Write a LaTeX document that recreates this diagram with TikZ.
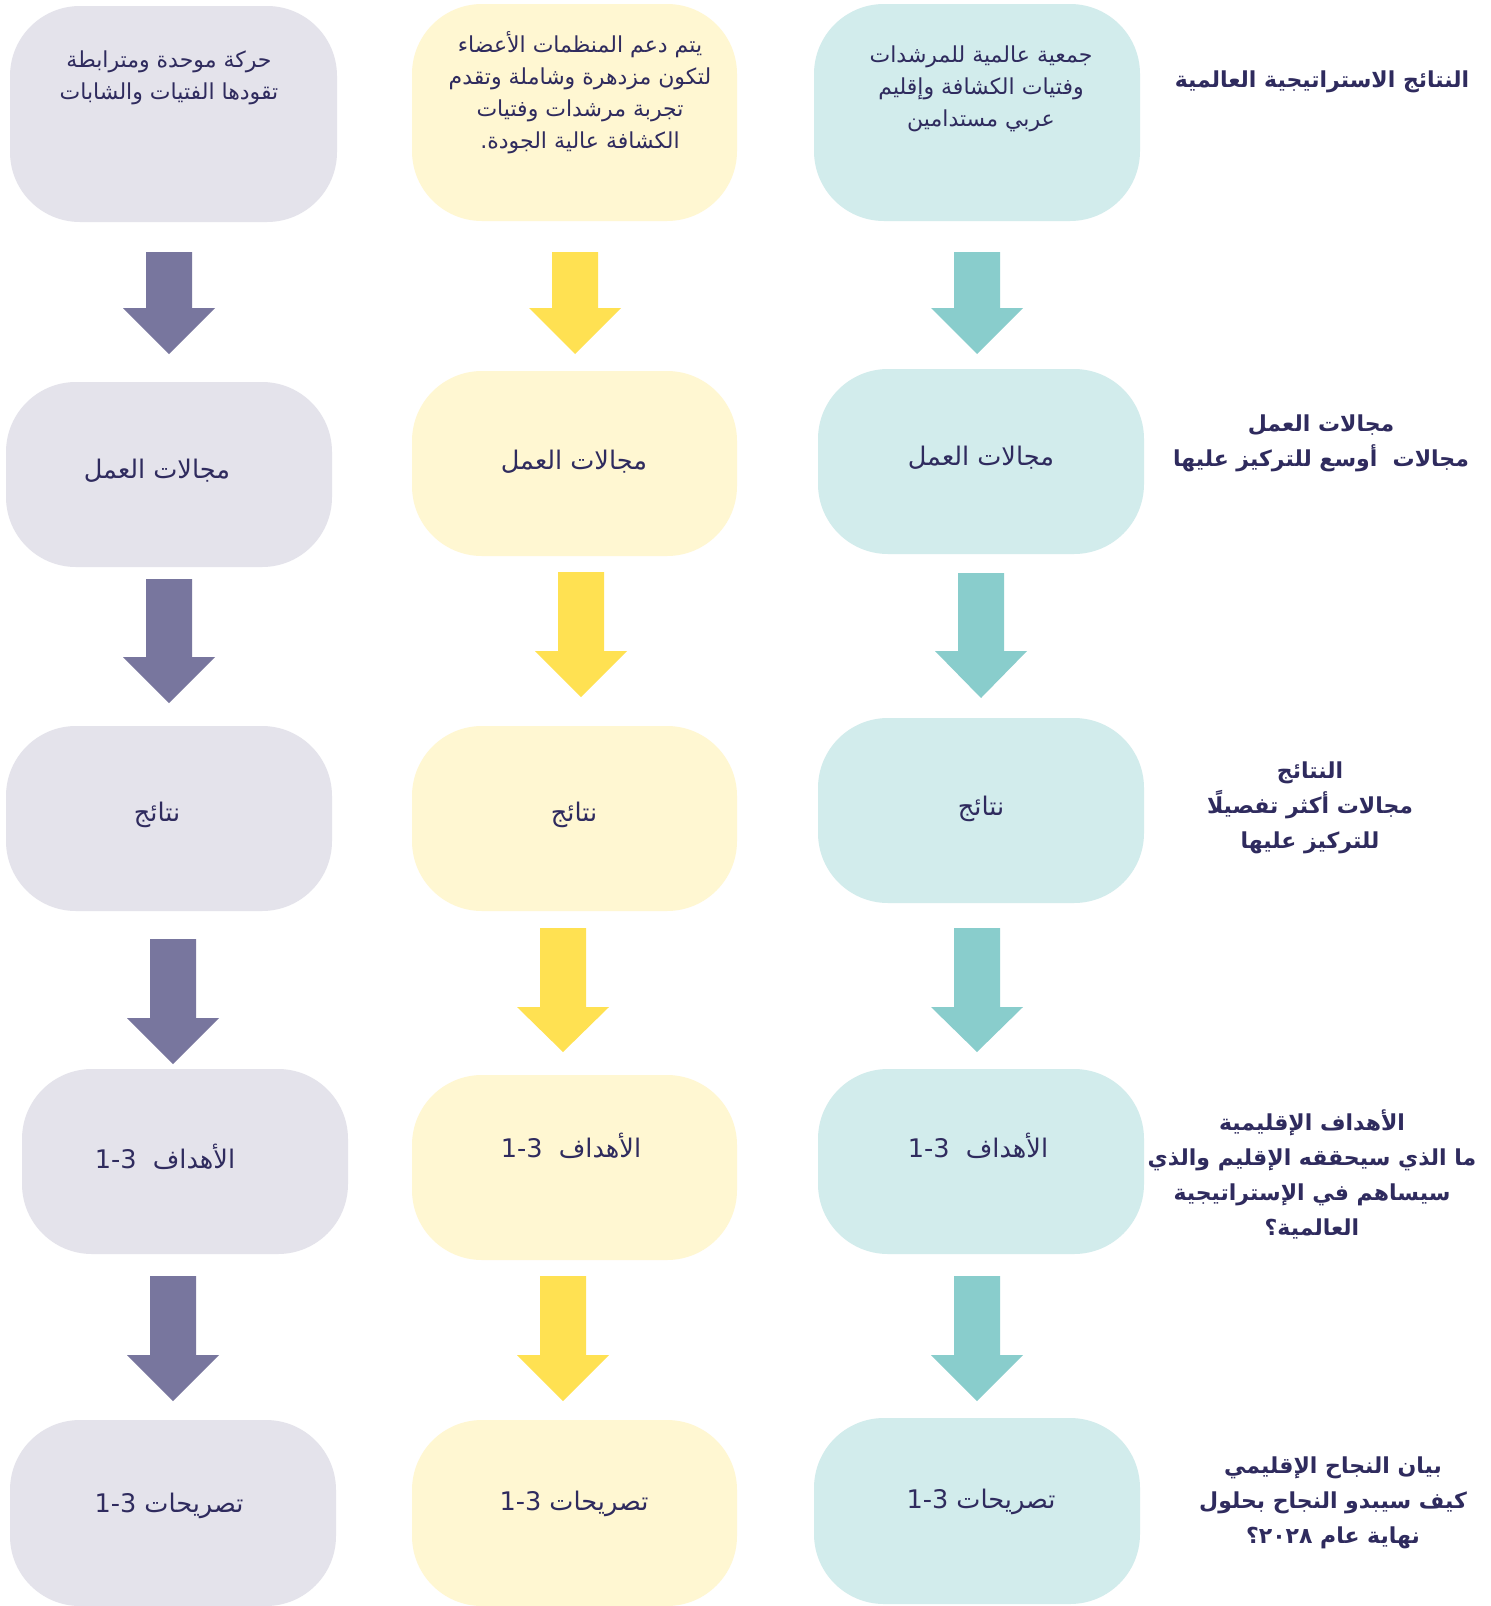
\documentclass[tikz,border=0pt]{standalone}
\usepackage{fontspec}
\TeXXeTstate=1
\newfontfamily\arabicfont[Script=Arabic]{DejaVu Sans}
\definecolor{greybox}{HTML}{E4E3EB}
\definecolor{yellowbox}{HTML}{FFF7D2}
\definecolor{tealbox}{HTML}{D2ECEC}
\definecolor{purplearr}{HTML}{78769E}
\definecolor{yellowarr}{HTML}{FFE152}
\definecolor{tealarr}{HTML}{89CDCC}
\definecolor{textc}{HTML}{2F2B5E}
\newcommand\AR[1]{\beginR #1\endR}
\newcommand\LT[1]{\beginL #1\endL{}}
\newcommand\bx[6]{\node[boxshape,fill=#2,minimum width={(#5-#3)*0.5pt},minimum height={(#6-#4)*0.5pt}] (#1) at ({(#3+#5)/2},{(#4+#6)/2}) {};}
\newcommand\dnarr[6]{%
  \coordinate (#1) at (#3,#6);
  \fill[#2] ({#3-23},#4) -- ({#3+23},#4) -- ({#3+23},#5) -- ({#3+46},#5) -- (#1) -- ({#3-46},#5) -- ({#3-23},#5) -- cycle;}
\begin{document}
\begin{tikzpicture}[x=0.5pt,y=-0.5pt,
  boxshape/.style={draw=none,rounded corners=35pt,inner sep=0pt,outer sep=0pt},
  txt/.style={text=textc,font=\arabicfont\fontsize{11}{16}\selectfont,align=center,inner sep=0pt},
  one/.style={text=textc,font=\arabicfont\fontsize{12.8}{16}\selectfont,align=center,inner sep=0pt},
  lbl/.style={text=textc,font=\arabicfont\bfseries\fontsize{11}{17.5}\selectfont,align=center,inner sep=0pt}]
\fill[white] (0,0) rectangle (1491,1606);
\useasboundingbox (0,0) rectangle (1491,1606);
% boxes
\bx{b11}{greybox}{10}{6}{337}{222}
\bx{b21}{greybox}{6}{382}{332}{567}
\bx{b31}{greybox}{6}{726}{332}{911}
\bx{b41}{greybox}{22}{1069}{348}{1254}
\bx{b51}{greybox}{10}{1420}{336}{1606}
\bx{b12}{yellowbox}{412}{4}{737}{221}
\bx{b22}{yellowbox}{412}{371}{737}{556}
\bx{b32}{yellowbox}{412}{726}{737}{911}
\bx{b42}{yellowbox}{412}{1075}{737}{1260}
\bx{b52}{yellowbox}{412}{1420}{737}{1606}
\bx{b13}{tealbox}{814}{4}{1140}{221}
\bx{b23}{tealbox}{818}{369}{1144}{554}
\bx{b33}{tealbox}{818}{718}{1144}{903}
\bx{b43}{tealbox}{818}{1069}{1144}{1254}
\bx{b53}{tealbox}{814}{1418}{1140}{1604}
% arrows
\dnarr{a11}{purplearr}{169}{252}{308}{354}
\dnarr{a12}{yellowarr}{575}{252}{308}{354}
\dnarr{a13}{tealarr}{977}{252}{308}{354}
\dnarr{a21}{purplearr}{169}{579}{657}{703}
\dnarr{a22}{yellowarr}{581}{572}{651}{697}
\dnarr{a23}{tealarr}{981}{573}{651}{698}
\dnarr{a31}{purplearr}{173}{939}{1018}{1064}
\dnarr{a32}{yellowarr}{563}{928}{1007}{1052}
\dnarr{a33}{tealarr}{977}{928}{1007}{1052}
\dnarr{a41}{purplearr}{173}{1276}{1355}{1401}
\dnarr{a42}{yellowarr}{563}{1276}{1355}{1401}
\dnarr{a43}{tealarr}{977}{1276}{1355}{1401}
% box texts row 1
\node[txt] (t11) at (169,78) {\AR{حركة موحدة ومترابطة}\\\AR{تقودها الفتيات والشابات}};
\node[txt] (t12) at (580,93) {\AR{يتم دعم المنظمات الأعضاء}\\\AR{لتكون مزدهرة وشاملة وتقدم}\\\AR{تجربة مرشدات وفتيات}\\\AR{الكشافة عالية الجودة.}};
\node[txt] (t13) at (981,89) {\AR{جمعية عالمية للمرشدات}\\\AR{وفتيات الكشافة وإقليم}\\\AR{عربي مستدامين}};
% row 2
\node[one] (t21) at (157,471) {\AR{مجالات العمل}};
\node[one] (t22) at (574,462) {\AR{مجالات العمل}};
\node[one] (t23) at (981,458) {\AR{مجالات العمل}};
% row 3
\node[one] (t31) at (157,815) {\AR{نتائج}};
\node[one] (t32) at (574,815) {\AR{نتائج}};
\node[one] (t33) at (981,809) {\AR{نتائج}};
% row 4
\node[one] (t41) at (165,1157) {\AR{الأهداف\ \ \LT{1-3}}};
\node[one] (t42) at (571,1146) {\AR{الأهداف\ \ \LT{1-3}}};
\node[one] (t43) at (978,1146) {\AR{الأهداف\ \ \LT{1-3}}};
% row 5
\node[one] (t51) at (169,1506) {\AR{تصريحات \LT{1-3}}};
\node[one] (t52) at (574,1504) {\AR{تصريحات \LT{1-3}}};
\node[one] (t53) at (981,1502) {\AR{تصريحات \LT{1-3}}};
% right labels
\node[lbl] (l1) at (1322,82) {\AR{النتائج الاستراتيجية العالمية}};
\node[lbl] (l2) at (1321,443) {\AR{مجالات العمل}\\\AR{مجالات\ \ أوسع للتركيز عليها}};
\node[lbl] (l3) at (1310,808) {\AR{النتائج}\\\AR{مجالات أكثر تفصيلًا}\\\AR{للتركيز عليها}};
\node[lbl] (l4) at (1312,1174) {\AR{الأهداف الإقليمية}\\\AR{ما الذي سيحققه الإقليم والذي}\\\AR{سيساهم في الإستراتيجية}\\\AR{العالمية؟}};
\node[lbl] (l5) at (1333,1503) {\AR{بيان النجاح الإقليمي}\\\AR{كيف سيبدو النجاح بحلول}\\\AR{نهاية عام \LT{٢٠٢٨}؟}};
\end{tikzpicture}
\end{document}
